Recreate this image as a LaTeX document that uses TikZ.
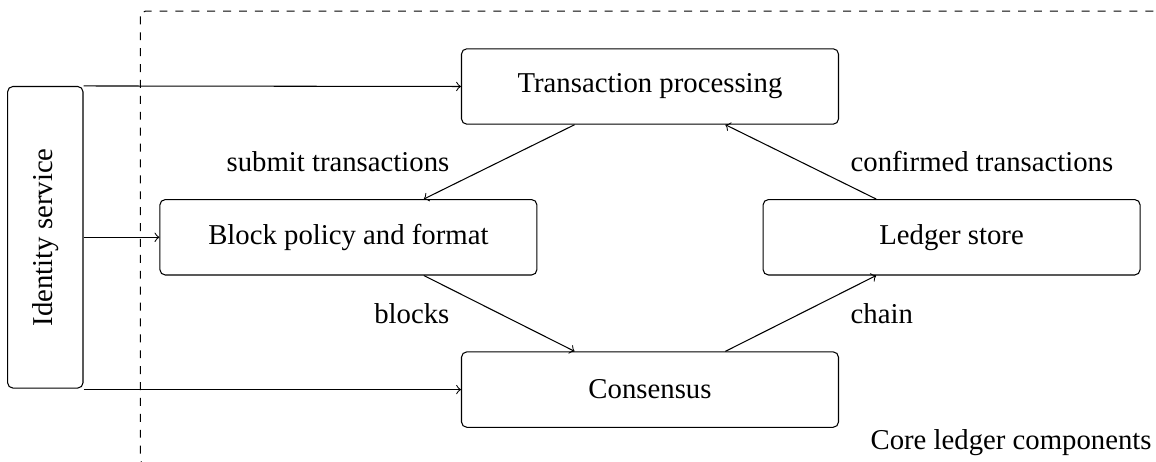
\documentclass[tikz,border=0pt]{standalone}
\usepackage{fontspec}
\setmainfont{Liberation Serif}
\begin{document}
\begin{tikzpicture}[
  every node/.style={font=\fontsize{10.85pt}{13pt}\selectfont},
  comp/.style={draw, rounded corners=2pt, minimum width=5cm, minimum height=1cm, inner sep=0pt},
  flow/.style={->, line width=0.4pt},
  flowlabel/.style={inner sep=3.6pt}
]
% page frame
\useasboundingbox (-8.621,1.147) rectangle (6.711,-4.980);

% core components
\node[comp] (trans) at (0,0) {Transaction processing};
\node[comp] (block) at (-4,-2) {Block policy and format};
\node[comp] (ledger) at (4,-2) {Ledger store};
\node[comp] (cons) at (0,-4.02) {Consensus};

% external service
\node[draw, rounded corners=2pt, minimum width=1cm, minimum height=4cm, inner sep=0pt]
  (ident) at (-8.02,-2) {\rotatebox{90}{Identity service}};

% container of the core components
\draw[dashed, rounded corners=2pt] (-6.76,1.0) rectangle (6.78,-5.02);
\node[anchor=base east, inner sep=0pt] (corelbl) at (6.66,-4.82) {Core ledger components};

% identity links
\draw[flow] (ident.north east) -- (trans.west);
\draw[flow] (ident.east) -- (block.west);
\draw[flow] (ident.south east |- cons.west) -- (cons.west);

% ledger cycle
\draw[flow] ([xshift=-1cm]trans.south) -- node[midway, left=15pt, flowlabel] {submit transactions} ([xshift=1cm]block.north);
\draw[flow] ([xshift=1cm]block.south) -- node[midway, left=15pt, flowlabel] {blocks} ([xshift=-1cm]cons.north);
\draw[flow] ([xshift=1cm]cons.north) -- node[midway, right=15pt, flowlabel] {chain} ([xshift=-1cm]ledger.south);
\draw[flow] ([xshift=-1cm]ledger.north) -- node[midway, right=15pt, flowlabel] {confirmed transactions} ([xshift=1cm]trans.south);
\end{tikzpicture}
\end{document}
